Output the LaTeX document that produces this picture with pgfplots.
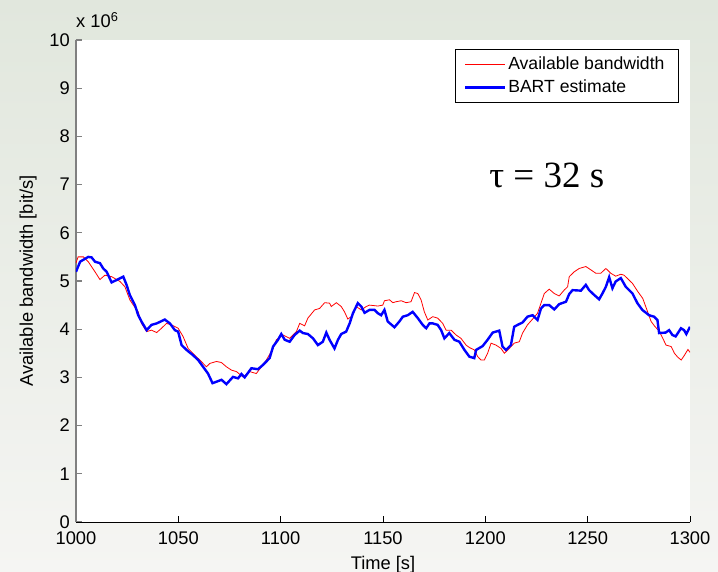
\documentclass[border=0pt]{standalone}
\usepackage{fontspec}
\setmainfont{Liberation Sans}
\newfontfamily\timesfont{Liberation Serif}
\usepackage{pgfplots}
\pgfplotsset{compat=1.18}
\definecolor{bgtop}{RGB}{225,231,221}
\definecolor{bgbot}{RGB}{245,245,243}
\definecolor{axgray}{RGB}{128,128,128}
\begin{document}
\fontsize{18.3}{22}\selectfont
\begin{tikzpicture}
\shade[top color=bgtop, bottom color=bgbot] (-76pt,-50pt) rectangle (642pt,522pt);
\begin{axis}[
  at={(0,0)}, anchor=south west,
  scale only axis, width=614pt, height=482pt,
  xmin=1000, xmax=1300, ymin=0, ymax=10,
  clip mode=individual,
  xtick={1000,1050,1100,1150,1200,1250,1300},
  ytick={0,1,2,3,4,5,6,7,8,9,10},
  axis x line*=bottom, axis y line*=left,
  x axis line style={-, black, line width=0.9pt},
  y axis line style={-, axgray, line width=1.8pt},
  tick align=inside,
  major tick length=6pt,
  xtick style={black, line width=0.9pt},
  ytick style={axgray, line width=1.2pt},
  axis background/.style={fill=white},
  /pgf/number format/assume math mode=true,
  /pgf/number format/1000 sep={},
  scaled y ticks=false,
  xlabel={Time [s]},
  ylabel={Available bandwidth [bit/s]},
  xlabel style={at={(axis description cs:0.5,-0.088)}, anchor=center},
  ylabel style={at={(axis description cs:-0.078,0.5)}, anchor=center},
  xticklabel style={yshift=-3pt},
  legend style={at={(axis description cs:0.982,0.981)}, anchor=north east,
    draw=black, line width=0.9pt, inner xsep=8pt, inner ysep=5.5pt,
    legend cell align=left, row sep=3pt, font=\fontsize{17.6}{21}\selectfont},
  legend image code/.code={\draw[#1] (0pt,0pt) -- (32pt,0pt); \path (0pt,0pt) -- (40pt,0pt);},
]
\addplot[color=red, line width=0.8pt] coordinates {
(1000,5.37) (1001,5.50) (1003.6,5.50) (1006,5.40) (1009.3,5.19) (1011.7,5.03)
(1014.1,5.12) (1017.4,5.09) (1021.5,4.99) (1023.9,4.88) (1026.3,4.61) (1028,4.50)
(1030.4,4.36) (1032,4.12) (1034.5,3.95) (1036.9,3.98) (1039.4,3.93) (1041.8,4.02)
(1044.2,4.12) (1046.7,4.09) (1049.9,4.02) (1052.3,3.85) (1054.8,3.60) (1058,3.46)
(1060.5,3.36) (1063.7,3.22) (1065.4,3.29) (1068.6,3.33) (1071,3.31) (1073.5,3.22)
(1076,3.15) (1078.4,3.12) (1081.6,3.01) (1084.9,3.12) (1088.1,3.08) (1090.6,3.22)
(1093,3.36) (1096.3,3.60) (1097.9,3.78) (1101.1,3.88) (1104.4,3.81) (1107.7,3.95)
(1109.3,4.12) (1111.7,4.07) (1113.3,4.23) (1116.6,4.40) (1119,4.43) (1121.5,4.55)
(1123.9,4.54) (1124.7,4.47) (1127.2,4.55) (1129.6,4.47) (1131.2,4.36) (1132.8,4.21)
(1134.5,4.26) (1136.9,4.47) (1139.4,4.40) (1141.8,4.47) (1143.4,4.50) (1147.5,4.48)
(1149.9,4.50) (1150.7,4.59) (1153.2,4.61) (1154.8,4.55) (1156.4,4.57) (1158.9,4.59)
(1161.3,4.55) (1163.7,4.57) (1165.4,4.76) (1167,4.74) (1168.6,4.61) (1170.2,4.36)
(1171.9,4.19) (1174.3,4.26) (1176.7,4.23) (1179.2,4.12) (1180.8,3.98) (1183.3,3.98)
(1185.7,3.88) (1188.1,3.81) (1190.6,3.67) (1192.2,3.62) (1194.6,3.57) (1196.3,3.43)
(1197.9,3.36) (1199.5,3.36) (1201.1,3.50) (1202.8,3.71) (1205.2,3.67) (1207.7,3.60)
(1209.3,3.50) (1211.7,3.60) (1214.1,3.71) (1216.6,3.74) (1218.2,3.92) (1220.6,4.09)
(1223.1,4.21) (1225.5,4.33) (1227.2,4.54) (1228.8,4.74) (1231.2,4.83) (1233.7,4.74)
(1236.1,4.69) (1238.5,4.81) (1240.2,4.88) (1241,5.09) (1243.4,5.19) (1245.9,5.26)
(1249.1,5.30) (1251.6,5.23) (1254,5.16) (1256.4,5.16) (1258.9,5.26) (1261.3,5.16)
(1263.7,5.10) (1266.2,5.14) (1267.8,5.12) (1271.9,4.95) (1274.5,4.78) (1276.9,4.64)
(1279.3,4.36) (1281,4.16) (1282.6,4.07) (1285.1,3.95) (1286.7,3.81) (1288.3,3.67)
(1290.8,3.64) (1292.4,3.50) (1294,3.42) (1295.7,3.36) (1297.3,3.46) (1299,3.58)
(1300,3.52)
};
\addlegendentry{Available bandwidth\hspace*{4pt}}
\addplot[color=blue, line width=2.4pt] coordinates {
(1000,5.19) (1002,5.40) (1004,5.45) (1006,5.50) (1007.6,5.49) (1009.3,5.40)
(1011.7,5.37) (1013.3,5.26) (1015,5.19) (1017.4,4.97) (1019.8,5.02) (1023.1,5.09)
(1024.7,4.92) (1026.3,4.71) (1028.8,4.50) (1030.4,4.29) (1032,4.16) (1034.5,3.98)
(1036.9,4.09) (1039.4,4.12) (1043.4,4.20) (1045.9,4.12) (1048.3,3.98) (1049.9,3.95)
(1051.6,3.67) (1054,3.57) (1057.2,3.46) (1059.7,3.36) (1062.1,3.22) (1064.5,3.08)
(1066.7,2.88) (1068.6,2.91) (1071.1,2.95) (1073.5,2.86) (1076.7,3.01) (1079.2,2.98)
(1080.8,3.07) (1082.4,3.00) (1085.7,3.19) (1088.9,3.17) (1091.4,3.26) (1094.6,3.40)
(1096.3,3.64) (1098.7,3.78) (1100.3,3.90) (1102,3.78) (1104.4,3.74) (1106.8,3.88)
(1109.3,3.97) (1110.9,3.92) (1113.3,3.90) (1115.8,3.81) (1118.2,3.67) (1120.6,3.74)
(1122.3,3.93) (1123.9,3.78) (1126.3,3.60) (1128,3.78) (1129.6,3.90) (1132,3.95)
(1133.7,4.12) (1135.3,4.33) (1137.7,4.54) (1139.4,4.47) (1141,4.34) (1143.4,4.40)
(1145.9,4.40) (1147.5,4.33) (1149.1,4.29) (1150.7,4.40) (1152.3,4.16) (1155.6,4.04)
(1158,4.16) (1159.7,4.26) (1162.1,4.29) (1164.5,4.36) (1167,4.23) (1169.4,4.09)
(1171.1,4.02) (1172.7,4.12) (1174.3,4.12) (1176.7,4.09) (1178.4,3.98) (1180,3.81)
(1182.4,3.92) (1184.9,3.78) (1187.3,3.74) (1189.8,3.57) (1192.2,3.43) (1194.6,3.40)
(1195.5,3.57) (1198.7,3.65) (1201.1,3.78) (1203.6,3.93) (1206.8,3.97) (1208.4,3.64)
(1210.1,3.57) (1212.5,3.67) (1214.1,4.05) (1215.8,4.09) (1218.2,4.14) (1220.6,4.26)
(1223.1,4.29) (1225.5,4.19) (1227.2,4.43) (1228.8,4.50) (1231.2,4.50) (1233.7,4.41)
(1236.1,4.52) (1239.4,4.57) (1241,4.73) (1242.6,4.81) (1246.7,4.80) (1249.1,4.92)
(1250.7,4.81) (1253.2,4.71) (1255.6,4.62) (1257.2,4.74) (1258.9,4.88) (1260.5,5.08)
(1262.1,4.85) (1263.7,4.99) (1266.2,5.06) (1268.6,4.88) (1271.9,4.74) (1274.3,4.54)
(1276.7,4.40) (1280,4.29) (1282.4,4.26) (1284.1,4.19) (1284.9,3.92) (1288.1,3.93)
(1289.8,3.98) (1291.4,3.88) (1293,3.85) (1295.6,4.02) (1297.1,3.98) (1298.2,3.90)
(1300,4.05)
};
\addlegendentry{BART estimate}
\node[font=\timesfont\fontsize{37}{44}\selectfont, anchor=center] at (axis cs:1230,7.2) {τ = 32 s};
\node[anchor=base west, inner sep=0pt] at (rel axis cs:0,1) [yshift=12pt] {x 10\textsuperscript{6}};
\end{axis}
\pgfresetboundingbox
\path[use as bounding box] (-76pt,-50pt) rectangle (642pt,522pt);
\end{tikzpicture}
\end{document}
